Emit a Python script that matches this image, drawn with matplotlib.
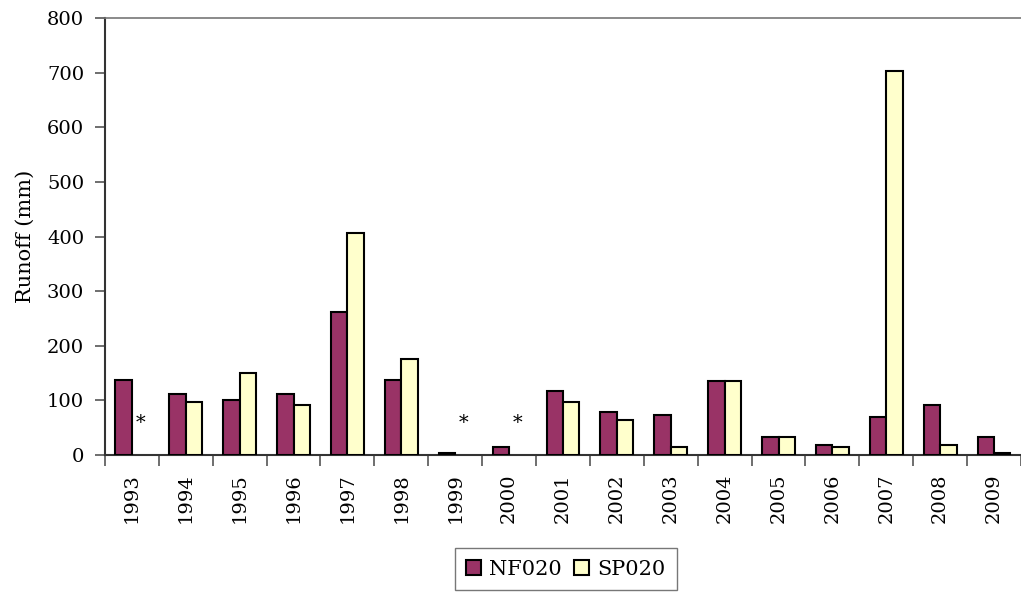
import matplotlib
matplotlib.use("Agg")
import matplotlib.pyplot as plt
import numpy as np

years = ["1993", "1994", "1995", "1996", "1997", "1998", "1999", "2000", "2001",
         "2002", "2003", "2004", "2005", "2006", "2007", "2008", "2009"]
nf020 = [137, 112, 100, 112, 262, 137, 4, 15, 117, 79, 73, 136, 33, 18, 70, 92, 33]
sp020 = [np.nan, 97, 150, 92, 407, 176, np.nan, np.nan, 97, 64, 15, 136, 33, 15, 703, 18, 3]
missing_sp = ["1993", "1999", "2000"]
yticks = [0, 100, 200, 300, 400, 500, 600, 700, 800]

plt.rcParams['font.family'] = ['DejaVu Serif']

fig = plt.figure(figsize=(10.21, 5.92), dpi=100)
ax = fig.add_axes([0.1028, 0.2314, 0.8972, 0.7382])

x = np.arange(len(years))
w = 0.305
ax.bar(x - w / 2, nf020, width=w, color="#993366", edgecolor="black", linewidth=1.5,
       label="NF020", zorder=3)
ax.bar(x + w / 2, sp020, width=w, color="#FFFFCC", edgecolor="black", linewidth=1.5,
       label="SP020", zorder=3)
for y in missing_sp:
    i = years.index(y)
    ax.text(i + w / 2, 58, "*", ha="center", va="center", fontsize=14)

ax.set_xlim(-0.5, len(years) - 0.5)
ax.set_ylim(0, 800)
ax.set_yticks(yticks)
ax.set_xticks(x)
ax.set_xticklabels(years, rotation=90, fontsize=14)
ax.set_xticks(np.arange(-0.5, len(years), 1), minor=True)
ax.tick_params(axis="x", which="major", length=0, pad=13)
ax.tick_params(axis="x", which="minor", length=8, width=1.2, color="#555555")
ax.tick_params(axis="y", length=7, width=1.2, color="#555555", labelsize=14, pad=8)
ax.set_ylabel("Runoff (mm)", fontsize=15, labelpad=9)

ax.spines["right"].set_visible(False)
ax.spines["top"].set_color("#777777")
ax.spines["top"].set_linewidth(1.2)
ax.spines["left"].set_linewidth(1.5)
ax.spines["left"].set_color("#333333")
ax.spines["bottom"].set_linewidth(1.5)
ax.spines["bottom"].set_color("#333333")

leg = ax.legend(loc="upper center", bbox_to_anchor=(0.503, -0.213), ncol=2, frameon=True,
                fancybox=False, edgecolor="#555555", fontsize=15, handlelength=0.7,
                handleheight=0.7, handletextpad=0.4, columnspacing=0.6,
                borderpad=0.55, borderaxespad=0)
leg.get_frame().set_linewidth(1.0)

fig.savefig("out.png", dpi=100)
